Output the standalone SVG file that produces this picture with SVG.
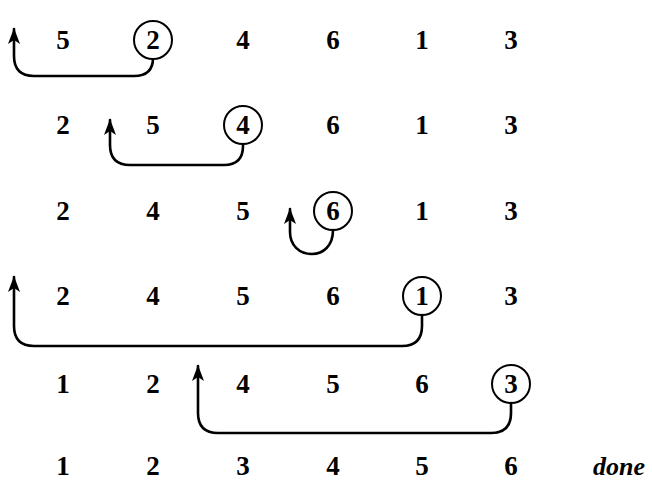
<svg xmlns="http://www.w3.org/2000/svg" width="652" height="495" viewBox="0 0 652 495">
<defs>
<marker id="ah" markerUnits="userSpaceOnUse" markerWidth="18" markerHeight="14" viewBox="0 0 18 14" refX="16" refY="7" orient="auto">
<path d="M17,7 L1,1 L5,7 L1,13 Z" fill="#000"/>
</marker>
<style>
.t{font-family:"Liberation Serif","Times New Roman",serif;font-weight:bold;font-size:27px;fill:#000;text-anchor:middle;dominant-baseline:central}
.d{font-style:italic;text-anchor:start;font-size:26px}
.c{fill:none;stroke:#000;stroke-width:2}
.a{fill:none;stroke:#000;stroke-width:2.6;stroke-linecap:round}
</style>
</defs>
<rect width="652" height="495" fill="#fff"/>
<g id="row1">
<text class="t" x="63" y="40">5</text>
<g id="r1-key"><circle class="c" cx="153" cy="40" r="19"/><text class="t" x="153" y="40">2</text></g>
<text class="t" x="243" y="40">4</text>
<text class="t" x="333" y="40">6</text>
<text class="t" x="422" y="40">1</text>
<text class="t" x="511" y="40">3</text>
</g>
<g id="row2">
<text class="t" x="63" y="125">2</text>
<text class="t" x="153" y="125">5</text>
<g id="r2-key"><circle class="c" cx="243" cy="125" r="19"/><text class="t" x="243" y="125">4</text></g>
<text class="t" x="333" y="125">6</text>
<text class="t" x="422" y="125">1</text>
<text class="t" x="511" y="125">3</text>
</g>
<g id="row3">
<text class="t" x="63" y="211">2</text>
<text class="t" x="153" y="211">4</text>
<text class="t" x="243" y="211">5</text>
<g id="r3-key"><circle class="c" cx="333" cy="211" r="19"/><text class="t" x="333" y="211">6</text></g>
<text class="t" x="422" y="211">1</text>
<text class="t" x="511" y="211">3</text>
</g>
<g id="row4">
<text class="t" x="63" y="296">2</text>
<text class="t" x="153" y="296">4</text>
<text class="t" x="243" y="296">5</text>
<text class="t" x="333" y="296">6</text>
<g id="r4-key"><circle class="c" cx="422" cy="296" r="19"/><text class="t" x="422" y="296">1</text></g>
<text class="t" x="511" y="296">3</text>
</g>
<g id="row5">
<text class="t" x="63" y="384">1</text>
<text class="t" x="153" y="384">2</text>
<text class="t" x="243" y="384">4</text>
<text class="t" x="333" y="384">5</text>
<text class="t" x="422" y="384">6</text>
<g id="r5-key"><circle class="c" cx="511" cy="384" r="19"/><text class="t" x="511" y="384">3</text></g>
</g>
<g id="row6">
<text class="t" x="63" y="466">1</text>
<text class="t" x="153" y="466">2</text>
<text class="t" x="243" y="466">3</text>
<text class="t" x="333" y="466">4</text>
<text class="t" x="422" y="466">5</text>
<text class="t" x="511" y="466">6</text>
<text class="t d" x="593" y="466">done</text>
</g>
<g id="connectors">
<path class="a" marker-end="url(#ah)" d="M153,59 V58 Q153,76 134,76 H34 Q14,76 14,56 V29"/>
<path class="a" marker-end="url(#ah)" d="M243,144 V146 Q243,165 224,165 H130 Q110,165 110,145 V120"/>
<path class="a" marker-end="url(#ah)" d="M333,230 C333,246 323,254 312,254 C299,254 290,245 290,232 V209"/>
<path class="a" marker-end="url(#ah)" d="M422,315 V326 Q422,346 402,346 H34 Q14,346 14,326 V277"/>
<path class="a" marker-end="url(#ah)" d="M511,403 V413 Q511,433 491,433 H218 Q198,433 198,413 V366"/>
</g>
</svg>
